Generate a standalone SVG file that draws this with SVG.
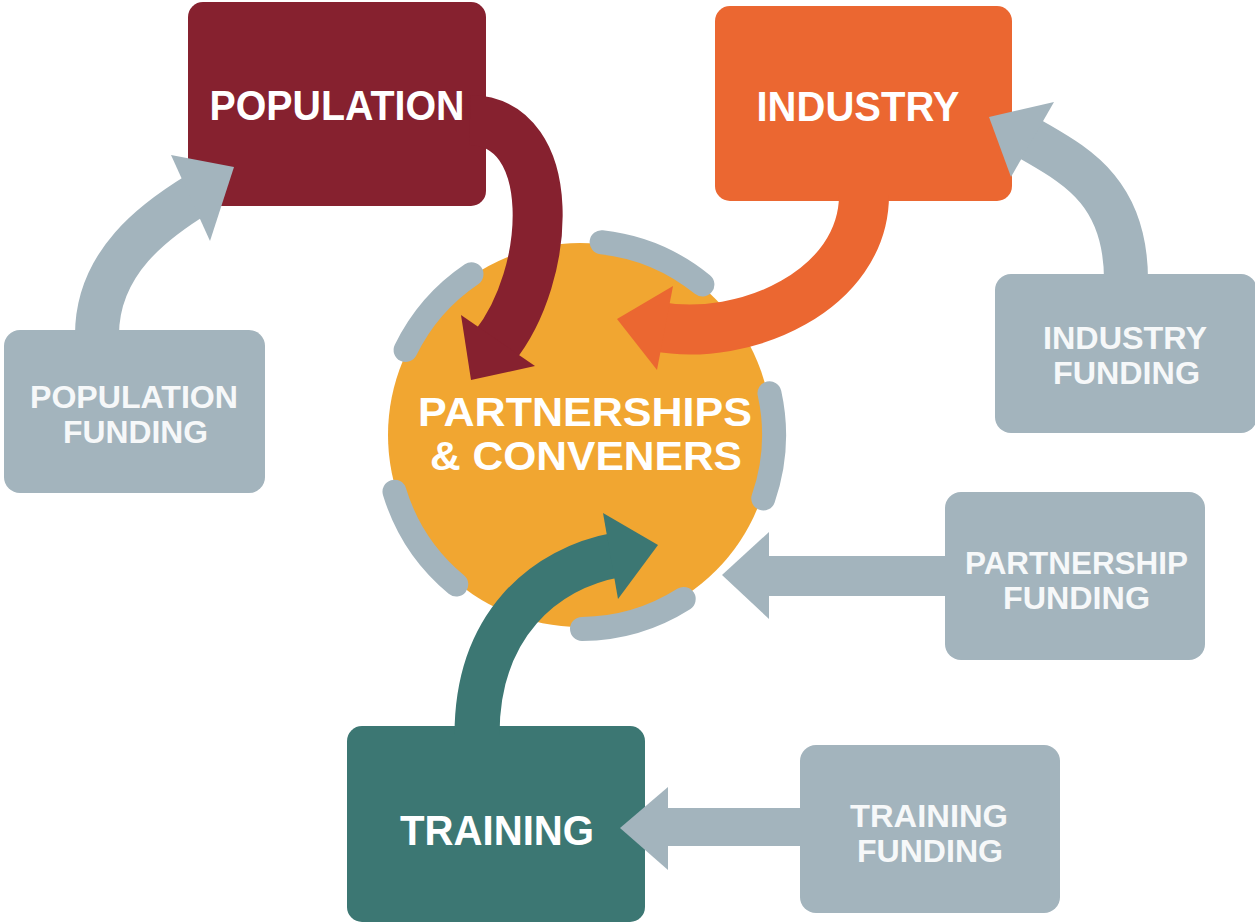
<svg xmlns="http://www.w3.org/2000/svg" width="1255" height="923" viewBox="0 0 1255 923">
<style>
.lbl{font-family:"Liberation Sans",Arial,sans-serif;font-weight:bold;fill:#ffffff;text-anchor:middle}
.big{font-size:42px}
.mid{font-size:40px}
.small{font-size:31px;fill:#f6f8f9}
.gbox{fill:#a3b4bd}
.ring{fill:none;stroke:#a3b4bd;stroke-width:24;stroke-linecap:round}
.shaft{fill:none;stroke-linecap:butt}
.g{stroke:#a3b4bd}
.gf{fill:#a3b4bd}
</style>
<rect width="1255" height="923" fill="#ffffff"/>

<g id="partnerships">
<circle cx="580" cy="435" r="192" fill="#f1a631"/>
<path class="ring" d="M601.6,242.2 A194,194 0 0 1 702.4,284.5"/>
<path class="ring" d="M405.6,350 A194,194 0 0 1 471.5,274.2"/>
<path class="ring" d="M456.3,584.5 A194,194 0 0 1 394.5,491.7"/>
<path class="ring" d="M683.7,599 A194,194 0 0 1 582,629"/>
<path class="ring" d="M769.5,393.3 A194,194 0 0 1 763.3,498.5"/>
<text class="lbl mid" x="585" y="426" textLength="334" lengthAdjust="spacingAndGlyphs">PARTNERSHIPS</text>
<text class="lbl mid" x="586" y="470" textLength="312" lengthAdjust="spacingAndGlyphs">&amp; CONVENERS</text>
</g>

<g id="population-funding">
<rect class="gbox" x="4" y="330" width="261" height="163" rx="16"/>
<text class="lbl small" x="134" y="408" textLength="208" lengthAdjust="spacingAndGlyphs">POPULATION</text>
<text class="lbl small" x="135.5" y="443" textLength="145" lengthAdjust="spacingAndGlyphs">FUNDING</text>
</g>

<g id="industry-funding">
<rect class="gbox" x="995" y="274" width="262" height="159" rx="16"/>
<text class="lbl small" x="1125" y="349" textLength="164" lengthAdjust="spacingAndGlyphs">INDUSTRY</text>
<text class="lbl small" x="1126.5" y="384" textLength="147" lengthAdjust="spacingAndGlyphs">FUNDING</text>
</g>

<g id="partnership-funding">
<rect class="gbox" x="945" y="492" width="260" height="168" rx="16"/>
<text class="lbl small" x="1076.5" y="574" textLength="223" lengthAdjust="spacingAndGlyphs">PARTNERSHIP</text>
<text class="lbl small" x="1076.5" y="609" textLength="147" lengthAdjust="spacingAndGlyphs">FUNDING</text>
</g>

<g id="training-funding">
<rect class="gbox" x="800" y="745" width="260" height="168" rx="16"/>
<text class="lbl small" x="929" y="827" textLength="158" lengthAdjust="spacingAndGlyphs">TRAINING</text>
<text class="lbl small" x="930" y="862" textLength="146" lengthAdjust="spacingAndGlyphs">FUNDING</text>
</g>

<g id="population">
<rect x="188" y="2" width="298" height="204" rx="15" fill="#86212f"/>
<text class="lbl big" x="337" y="120" textLength="255" lengthAdjust="spacingAndGlyphs">POPULATION</text>
</g>

<g id="industry">
<rect x="715" y="6" width="297" height="195" rx="15" fill="#eb6731"/>
<text class="lbl big" x="858" y="121" textLength="203" lengthAdjust="spacingAndGlyphs">INDUSTRY</text>
</g>

<g id="training">
<rect x="347" y="726" width="298" height="196" rx="15" fill="#3c7773"/>
<text class="lbl big" x="497" y="845" textLength="194" lengthAdjust="spacingAndGlyphs">TRAINING</text>
</g>

<g id="connectors">
<!-- population -> partnerships -->
<path class="shaft" stroke="#86212f" stroke-width="50" d="M470,120 C560,122 552,275 494,347"/>
<polygon fill="#86212f" points="471,380 461,315 535,366"/>
<!-- industry -> partnerships -->
<path class="shaft" stroke="#eb6731" stroke-width="50" d="M864,195 C864,290 745,343 656.6,326.5"/>
<polygon fill="#eb6731" points="617,319 673,286 657,370"/>
<!-- training -> partnerships -->
<path class="shaft" stroke="#3c7773" stroke-width="45" d="M477,735 C477,625 544,568 618.4,554.6"/>
<polygon fill="#3c7773" points="658,545 603,513 618,599"/>
<!-- population funding -> population -->
<path class="shaft g" stroke-width="44" d="M97,335 C97,262 155.5,220 198,194"/>
<polygon class="gf" points="234,167 171,155 210,241"/>
<!-- industry funding -> industry -->
<path class="shaft g" stroke-width="44" d="M1126,280 C1126,185 1067.5,162 1025,136"/>
<polygon class="gf" points="989,117 1054,102 1011,177"/>
<!-- partnership funding -> partnerships -->
<path class="shaft g" stroke-width="40" d="M950,576 L760,576"/>
<polygon class="gf" points="722,575 769,532 769,619"/>
<!-- training funding -> training -->
<path class="shaft g" stroke-width="38" d="M805,827 L660,827"/>
<polygon class="gf" points="620,828 668,787 668,870"/>
</g>
</svg>
